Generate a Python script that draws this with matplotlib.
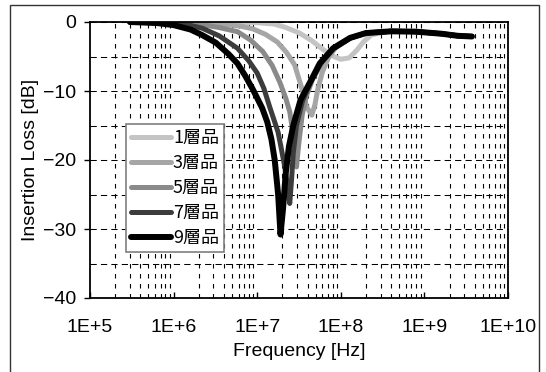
import matplotlib
matplotlib.use("Agg")
from matplotlib import pyplot as plt
from matplotlib.patches import Rectangle
from matplotlib.ticker import FixedLocator, NullFormatter

plt.rcParams['font.family'] = ['Liberation Sans', 'Noto Sans CJK JP', 'DejaVu Sans']

# shared high-frequency plateau (Hz, dB)
f_plateau = [4.0e8, 7.9e8, 1.6e9, 2.5e9, 3.7e9]
il_plateau = [-1.35, -1.4, -1.7, -2.0, -2.1]

# 1層品
f_1 = [3.0e5, 1.0e7, 1.6e7, 2.2e7, 3.2e7, 4.5e7, 6.0e7, 7.9e7, 1.0e8, 1.26e8,
       1.55e8, 1.86e8, 2.3e8, 3.2e8] + f_plateau
il_1 = [0.0, -0.1, -0.3, -0.8, -1.6, -2.7, -3.9, -4.9, -5.4, -5.2,
        -4.1, -2.9, -1.9, -1.45] + il_plateau

# 3層品
f_3 = [3.0e5, 3.2e6, 6.3e6, 8.9e6, 1.26e7, 1.74e7, 2.24e7, 2.8e7, 3.4e7, 3.9e7,
       4.5e7, 4.9e7, 5.3e7, 6.0e7, 7.1e7, 8.9e7, 1.29e8, 2.0e8] + f_plateau
il_3 = [0.0, -0.2, -0.6, -1.0, -1.8, -2.9, -4.4, -6.2, -9.5, -12.3,
        -13.5, -12.0, -9.8, -7.3, -5.2, -3.5, -2.3, -1.6] + il_plateau

# 5層品
f_5 = [3.0e5, 2.0e6, 3.5e6, 5.8e6, 8.3e6, 1.17e7, 1.51e7, 1.86e7, 2.19e7, 2.45e7,
       2.75e7, 2.95e7, 3.15e7, 3.45e7, 3.85e7, 4.6e7, 6.0e7, 8.3e7, 1.29e8, 2.0e8] + f_plateau
il_5 = [0.0, -0.3, -0.8, -1.4, -2.6, -4.3, -6.3, -8.7, -11.0, -13.0,
        -17.0, -21.0, -17.5, -13.5, -10.8, -8.3, -5.8, -3.9, -2.35, -1.6] + il_plateau

# 7層品
f_7 = [3.0e5, 1.0e6, 1.6e6, 2.2e6, 3.5e6, 5.8e6, 7.9e6, 1.0e7, 1.2e7, 1.41e7,
       1.78e7, 2.14e7, 2.45e7, 2.57e7, 2.7e7, 2.95e7, 3.47e7, 4.37e7, 5.75e7, 8.1e7,
       1.29e8, 2.0e8] + f_plateau
il_7 = [0.0, -0.2, -0.5, -0.9, -2.0, -3.8, -5.6, -7.4, -9.6, -12.3,
        -16.0, -21.0, -26.3, -23.0, -19.0, -15.0, -11.5, -8.7, -6.0, -3.9,
        -2.35, -1.6] + il_plateau

# 9層品
f_9 = [3.0e5, 6.3e5, 1.0e6, 1.6e6, 2.2e6, 3.2e6, 4.5e6, 5.8e6, 7.2e6, 8.9e6,
       1.15e7, 1.32e7, 1.48e7, 1.62e7, 1.78e7, 1.9e7, 2.04e7, 2.19e7, 2.4e7, 2.7e7,
       3.3e7, 4.3e7, 5.6e7, 8.1e7, 1.29e8, 2.0e8] + f_plateau
il_9 = [0.0, -0.15, -0.45, -1.1, -1.9, -3.0, -4.6, -6.0, -7.8, -9.8,
        -12.5, -14.5, -17.0, -20.0, -25.0, -30.8, -27.0, -22.0, -18.0, -15.0,
        -11.3, -8.7, -6.0, -3.8, -2.3, -1.6] + il_plateau

series = [
    ("1層品", f_1, il_1, "#c4c4c4", 3.6),
    ("3層品", f_3, il_3, "#a6a6a6", 3.6),
    ("5層品", f_5, il_5, "#8a8a8a", 3.6),
    ("7層品", f_7, il_7, "#3c3c3c", 3.6),
    ("9層品", f_9, il_9, "#000000", 4.3),
]

x_ticks = [1e5, 1e6, 1e7, 1e8, 1e9, 1e10]
x_labels = ["1E+5", "1E+6", "1E+7", "1E+8", "1E+9", "1E+10"]
y_ticks = [0, -10, -20, -30, -40]

fig = plt.figure(figsize=(5.46, 3.72), dpi=100)
ax = fig.add_axes([90 / 546, 1 - 298 / 372, 418 / 546, 276 / 372])

for name, f, il, col, lw in series:
    ax.semilogx(f, il, color=col, lw=lw, label=name, solid_capstyle='round',
                solid_joinstyle='round')

ax.set_xlim(1e5, 1e10)
ax.set_ylim(-40, 0)
ax.set_xticks(x_ticks)
ax.set_xticklabels(x_labels)
ax.xaxis.set_minor_locator(FixedLocator([m * 10 ** d for d in range(5, 10) for m in range(2, 10)]))
ax.xaxis.set_minor_formatter(NullFormatter())
ax.set_yticks(y_ticks)
ax.set_yticks([-5, -15, -25, -35], minor=True)

ax.tick_params(axis='x', which='major', direction='in', length=4, width=1, pad=15, labelsize=14)
ax.tick_params(axis='y', which='major', direction='out', length=4, width=1, pad=6, labelsize=14)
ax.tick_params(which='minor', length=0)

ax.yaxis.grid(True, which='both', color='black', lw=0.75, ls=(0, (6, 4)))
ax.xaxis.grid(True, which='minor', color='black', lw=0.8, ls=(0, (4, 5)))
ax.xaxis.grid(False, which='major')
ax.set_axisbelow(True)

for s in ax.spines.values():
    s.set_linewidth(1.3)
    s.set_color('black')

ax.set_xlabel("Frequency [Hz]", fontsize=14, labelpad=5)
ax.set_ylabel("Insertion Loss [dB]", fontsize=14, labelpad=3)

leg = ax.legend(loc='upper left', bbox_to_anchor=(126 / 546, 1 - 124 / 372),
                bbox_transform=fig.transFigure, borderaxespad=0,
                prop={'family': ['Noto Sans CJK JP'], 'size': 13},
                handlelength=2.2, handletextpad=0.1, labelspacing=0.38,
                borderpad=0.3, fancybox=False, framealpha=1)
leg.get_frame().set_edgecolor('#7f7f7f')
leg.get_frame().set_linewidth(1.2)

fig.patches.append(Rectangle((10 / 546, -0.05), 529 / 546, 1.05 - 5 / 372,
                             transform=fig.transFigure, fill=False,
                             edgecolor='#333333', lw=1))

fig.savefig("out.png", dpi=100)
